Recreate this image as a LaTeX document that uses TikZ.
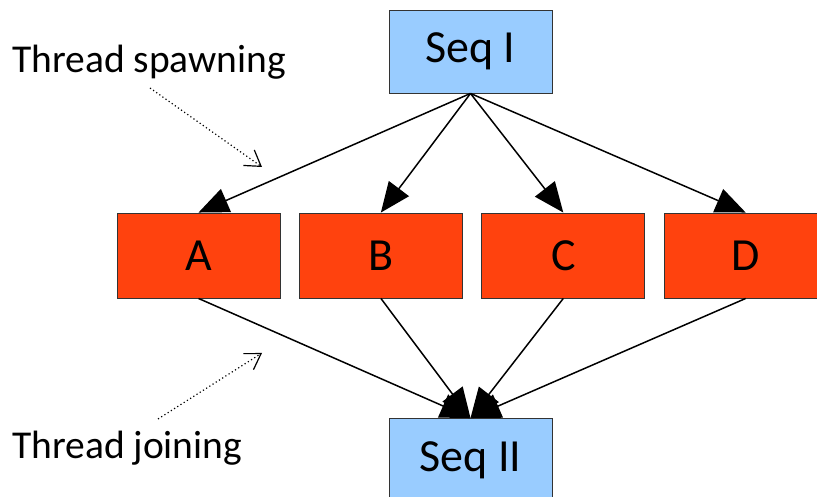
\documentclass[tikz,border=0pt]{standalone}
\usepackage{fontspec}
\setmainfont{Carlito}
\usepackage{tikz}
\usetikzlibrary{positioning,arrows.meta}

\definecolor{seqblue}{HTML}{99CCFF}
\definecolor{thrred}{HTML}{FF420E}

\begin{document}
\begin{tikzpicture}[
  x=1pt, y=1pt,
  >={Triangle[length=30pt, width=25pt]},
  seq/.style={draw=black!80, line width=0.9pt, fill=seqblue, minimum width=163pt, minimum height=83pt, inner sep=0pt},
  thr/.style={draw=black!80, line width=0.9pt, fill=thrred, minimum width=163pt, minimum height=85pt, inner sep=0pt},
  lbl/.style={font=\fontsize{46}{55}\selectfont},
  note/.style={font=\fontsize{39.5}{47}\selectfont, anchor=base west, inner sep=0pt},
  flow/.style={->, line width=1.5pt},
  hint/.style={-{Straight Barb[length=15pt, width=19pt]}, line width=1.2pt, dash pattern=on 1.2pt off 2.6pt}
]
\useasboundingbox (0,0) rectangle (817,497);

% ---------- nodes ----------
\node[seq, lbl] (S1) at (470.5,445.5) {Seq I};
\node[thr, lbl] (A) at (198.5,241.5) {A};
\node[thr, lbl, right=18.5pt of A] (B) {B};
\node[thr, lbl, right=18.5pt of B] (C) {C};
\node[thr, lbl, right=18.5pt of C] (D) {D};
\node[seq, lbl] (S2) at (470.5,37) {Seq II};

% ---------- annotations ----------
\node[note] (spawn) at (12,424) {Thread spawning};
\node[note] (join) at (12,38) {Thread joining};
\coordinate (spawnA) at (150,409);
\coordinate (spawnB) at (262,330);
\coordinate (joinA) at (158,78);
\coordinate (joinB) at (262,144);

% ---------- arrows ----------
\foreach \t in {A,B,C,D}{
  \draw[flow] (S1.south) -- (\t.north);
  \draw[flow] (\t.south) -- (S2.north);
}
\draw[hint] (spawnA) -- (spawnB);
\draw[hint] (joinA) -- (joinB);
\end{tikzpicture}
\end{document}
